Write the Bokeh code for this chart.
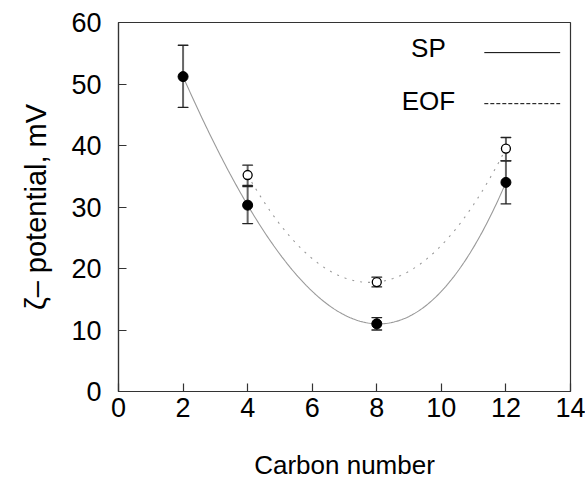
import numpy as np
from bokeh.plotting import figure
from bokeh.models import Label, FixedTicker, Range1d
from bokeh.embed import file_html
from bokeh.resources import INLINE

# ---- data ----
sp_x = [2, 4, 8, 12]
sp_y = [51.2, 30.3, 11.0, 34.0]
sp_lo = [46.2, 27.3, 10.0, 30.5]
sp_hi = [56.3, 33.3, 12.0, 37.5]

eof_x = [4, 8, 12]
eof_y = [35.2, 17.8, 39.5]
eof_lo = [33.5, 17.0, 37.5]
eof_hi = [36.8, 18.6, 41.3]

x_ticks = [0, 2, 4, 6, 8, 10, 12, 14]
y_ticks = [0, 10, 20, 30, 40, 50, 60]

FONT = "Liberation Sans"

p = figure(output_backend="svg", toolbar_location=None,
           frame_width=452, frame_height=369,
           min_border_left=118, min_border_right=15,
           min_border_top=22, min_border_bottom=90,
           x_range=Range1d(0, 14), y_range=Range1d(0, 60))

p.grid.visible = False
p.outline_line_color = "#333333"
p.outline_line_width = 1.2
p.background_fill_color = "white"
p.border_fill_color = "white"

for ax in (p.xaxis[0], p.yaxis[0]):
    ax.axis_line_color = "#333333"
    ax.axis_line_width = 1.2
    ax.major_tick_in = 8
    ax.major_tick_out = 0
    ax.minor_tick_line_color = None
    ax.major_tick_line_color = "#333333"
    ax.major_tick_line_width = 1.2
    ax.major_label_text_font = FONT
    ax.major_label_text_font_size = "27px"
    ax.major_label_text_color = "black"
    ax.axis_label_text_font = FONT
    ax.axis_label_text_font_style = "normal"
    ax.axis_label_text_color = "black"

p.xaxis.axis_label_text_font_size = "26px"
p.yaxis.axis_label_text_font_size = "29px"
p.xaxis.ticker = FixedTicker(ticks=x_ticks)
p.yaxis.ticker = FixedTicker(ticks=y_ticks)
p.xaxis.axis_label = "Carbon number"
p.yaxis.axis_label = "ζ\u2013 potential, mV"
p.xaxis.major_label_standoff = 6
p.xaxis.axis_label_standoff = 30
p.yaxis.major_label_standoff = 17
p.yaxis.axis_label_standoff = 16

# smooth curves through the points
c_sp = np.polyfit(sp_x, sp_y, 3)
xs_sp = np.linspace(sp_x[0], sp_x[-1], 200)
p.line(xs_sp, np.polyval(c_sp, xs_sp), line_color="#9a9a9a", line_width=1.1)

c_eof = np.polyfit(eof_x, eof_y, 2)
xs_eof = np.linspace(eof_x[0], eof_x[-1], 200)
p.line(xs_eof, np.polyval(c_eof, xs_eof), line_color="#9a9a9a", line_width=1.1,
       line_dash="2 6")

# error bars
for xs, lo, hi in ((sp_x, sp_lo, sp_hi), (eof_x, eof_lo, eof_hi)):
    p.segment(xs, lo, xs, hi, line_color="#666666", line_width=2)
    p.rect(xs, lo, width=10, height=0.01, width_units="screen", height_units="data",
           fill_alpha=0, line_color="#222222", line_width=1.2)
    p.rect(xs, hi, width=10, height=0.01, width_units="screen", height_units="data",
           fill_alpha=0, line_color="#222222", line_width=1.2)

p.scatter(sp_x, sp_y, size=10, fill_color="black", line_color="black")
p.scatter(eof_x, eof_y, size=9, fill_color="white", line_color="black", line_width=1.3)

# legend drawn in the style of the original
p.add_layout(Label(x=9.6, y=55.9, text="SP", text_align="center", text_baseline="alphabetic",
                   text_font=FONT, text_font_size="26px", text_color="black"))
p.add_layout(Label(x=9.6, y=47.2, text="EOF", text_align="center", text_baseline="alphabetic",
                   text_font=FONT, text_font_size="26px", text_color="black"))
p.segment([11.33], [55.1], [13.68], [55.1], line_color="black", line_width=1)
p.segment([11.33], [46.8], [13.68], [46.8], line_color="black", line_width=1, line_dash="4 2")

open("out.html", "w").write(file_html(p, INLINE))
